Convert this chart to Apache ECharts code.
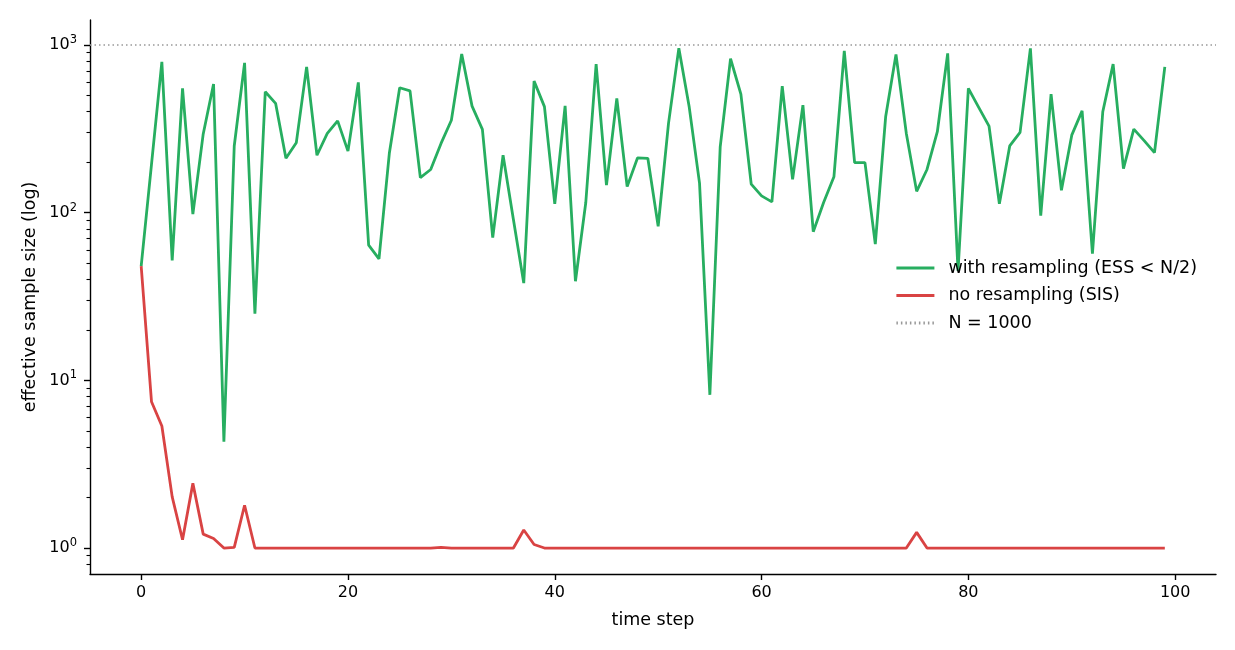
<!DOCTYPE html>
<html>
<head>
<meta charset="utf-8">
<script src="https://cdn.jsdelivr.net/npm/echarts@6/dist/echarts.min.js"></script>
<style>
  html, body { margin: 0; padding: 0; background: #fff; }
  #chart { width: 1235px; height: 650px; }
</style>
</head>
<body>
<div id="chart"></div>
<script>
// ESS per time step
const essResample = [
  48, 195, 794, 52, 551, 98, 295, 585, 4.3, 250,
  783, 25, 526, 449, 211, 261, 741, 220, 297, 353,
  233, 598, 64, 53, 226, 556, 533, 162, 181, 259,
  356, 883, 432, 314, 71, 220, 91, 38, 609, 429,
  113, 434, 39, 115, 769, 146, 480, 143, 212, 211,
  83, 341, 958, 428, 150, 8.2, 247, 828, 510, 148,
  126, 116, 569, 158, 438, 77, 115, 164, 924, 199,
  199, 65, 373, 879, 297, 134, 181, 304, 891, 45,
  551, 425, 328, 113, 250, 301, 955, 96, 510, 136,
  290, 405, 57, 400, 769, 183, 315, 269, 228, 741
];
const essSIS = [
  48, 7.45, 5.34, 2.02, 1.12, 2.43, 1.21, 1.14, 1.0, 1.01,
  1.80, 1.0, 1.0, 1.0, 1.0, 1.0, 1.0, 1.0, 1.0, 1.0,
  1.0, 1.0, 1.0, 1.0, 1.0, 1.0, 1.0, 1.0, 1.0, 1.01,
  1.0, 1.0, 1.0, 1.0, 1.0, 1.0, 1.0, 1.28, 1.05, 1.0,
  1.0, 1.0, 1.0, 1.0, 1.0, 1.0, 1.0, 1.0, 1.0, 1.0,
  1.0, 1.0, 1.0, 1.0, 1.0, 1.0, 1.0, 1.0, 1.0, 1.0,
  1.0, 1.0, 1.0, 1.0, 1.0, 1.0, 1.0, 1.0, 1.0, 1.0,
  1.0, 1.0, 1.0, 1.0, 1.0, 1.24, 1.0, 1.0, 1.0, 1.0,
  1.0, 1.0, 1.0, 1.0, 1.0, 1.0, 1.0, 1.0, 1.0, 1.0,
  1.0, 1.0, 1.0, 1.0, 1.0, 1.0, 1.0, 1.0, 1.0, 1.0
];
const nParticles = 1000;
const xTicks = [0, 20, 40, 60, 80, 100];
const yMajorExps = [0, 1, 2, 3];
const yMinorTicks = [0.8, 0.9, 2, 3, 4, 5, 6, 7, 8, 9, 20, 30, 40, 50, 60, 70, 80, 90,
  200, 300, 400, 500, 600, 700, 800, 900];
const yMin = 0.7, yMax = 1410;

const FONT = "DejaVu Sans";
const GREEN = "#27ae60";
const RED = "#d94343";

const myChart = echarts.init(document.getElementById("chart"));

const logRange = { min: Math.log10(yMin), max: Math.log10(yMax) };

const option = {
  animation: false,
  textStyle: { fontFamily: FONT, color: "#000" },
  grid: { left: 90, right: 19, top: 20, bottom: 76, containLabel: false },
  legend: {
    orient: "vertical",
    left: 895,
    top: 259,
    padding: 0,
    itemWidth: 38,
    itemHeight: 14,
    itemGap: 9.5,
    itemStyle: { opacity: 0 },
    lineStyle: { width: 2.8 },
    textStyle: { fontFamily: FONT, fontSize: 17.5, color: "#000", padding: [0, 0, 0, 9] },
    data: ["with resampling (ESS < N/2)", "no resampling (SIS)", "N = 1000"]
  },
  xAxis: {
    type: "value",
    min: -4.95,
    max: 103.95,
    name: "time step",
    nameLocation: "middle",
    nameGap: 37,
    nameTextStyle: { fontFamily: FONT, fontSize: 17.5, color: "#000" },
    axisLine: { show: true, onZero: false, lineStyle: { color: "#000", width: 1.4 } },
    axisTick: { show: true, customValues: xTicks, length: 6, lineStyle: { color: "#000", width: 1.4 } },
    axisLabel: { customValues: xTicks, fontFamily: FONT, fontSize: 16, color: "#000", margin: 11 },
    splitLine: { show: false }
  },
  yAxis: [
    {
      // data axis
      type: "log",
      logBase: 10,
      min: yMin,
      max: yMax,
      name: "effective sample size (log)",
      nameLocation: "middle",
      nameGap: 51,
      nameTextStyle: { fontFamily: FONT, fontSize: 17.5, color: "#000" },
      axisLine: { show: true, onZero: false, lineStyle: { color: "#000", width: 1.4 } },
      axisTick: { show: false },
      axisLabel: { show: false },
      splitLine: { show: false }
    },
    {
      // major ticks in log10 space
      type: "value",
      position: "left",
      min: logRange.min,
      max: logRange.max,
      axisLine: { show: false, onZero: false },
      axisTick: { show: true, customValues: yMajorExps, length: 6, lineStyle: { color: "#000", width: 1.4 } },
      axisLabel: {
        customValues: yMajorExps,
        margin: 13,
        formatter: (v) => "{b|10}{s|" + v + "}",
        rich: {
          b: { fontFamily: FONT, fontSize: 16, color: "#000", lineHeight: 22 },
          s: { fontFamily: FONT, fontSize: 11.5, color: "#000", lineHeight: 11, verticalAlign: "top" }
        }
      },
      splitLine: { show: false }
    },
    {
      // minor ticks
      type: "value",
      position: "left",
      min: logRange.min,
      max: logRange.max,
      axisLine: { show: false, onZero: false },
      axisTick: {
        show: true,
        customValues: yMinorTicks.map((v) => Math.log10(v)),
        length: 3.5,
        lineStyle: { color: "#000", width: 1.1 }
      },
      axisLabel: { show: false },
      splitLine: { show: false }
    }
  ],
  series: [
    {
      name: "with resampling (ESS < N/2)",
      type: "line",
      yAxisIndex: 0,
      symbol: "none",
      color: GREEN,
      lineStyle: { color: GREEN, width: 2.8 },
      data: essResample.map((v, i) => [i, v])
    },
    {
      name: "no resampling (SIS)",
      type: "line",
      yAxisIndex: 0,
      symbol: "none",
      color: RED,
      lineStyle: { color: RED, width: 2.8 },
      data: essSIS.map((v, i) => [i, v])
    },
    {
      name: "N = 1000",
      type: "line",
      yAxisIndex: 0,
      symbol: "none",
      color: "#999",
      lineStyle: { color: "#999", width: 1.5, type: [1.5, 3] },
      data: [],
      markLine: {
        silent: true,
        symbol: "none",
        label: { show: false },
        lineStyle: { color: "#999", width: 1.5, type: [1.5, 3] },
        data: [{ yAxis: nParticles }]
      }
    }
  ]
};

myChart.setOption(option);
window.onresize = function () {
  myChart.resize();
};
</script>
</body>
</html>
